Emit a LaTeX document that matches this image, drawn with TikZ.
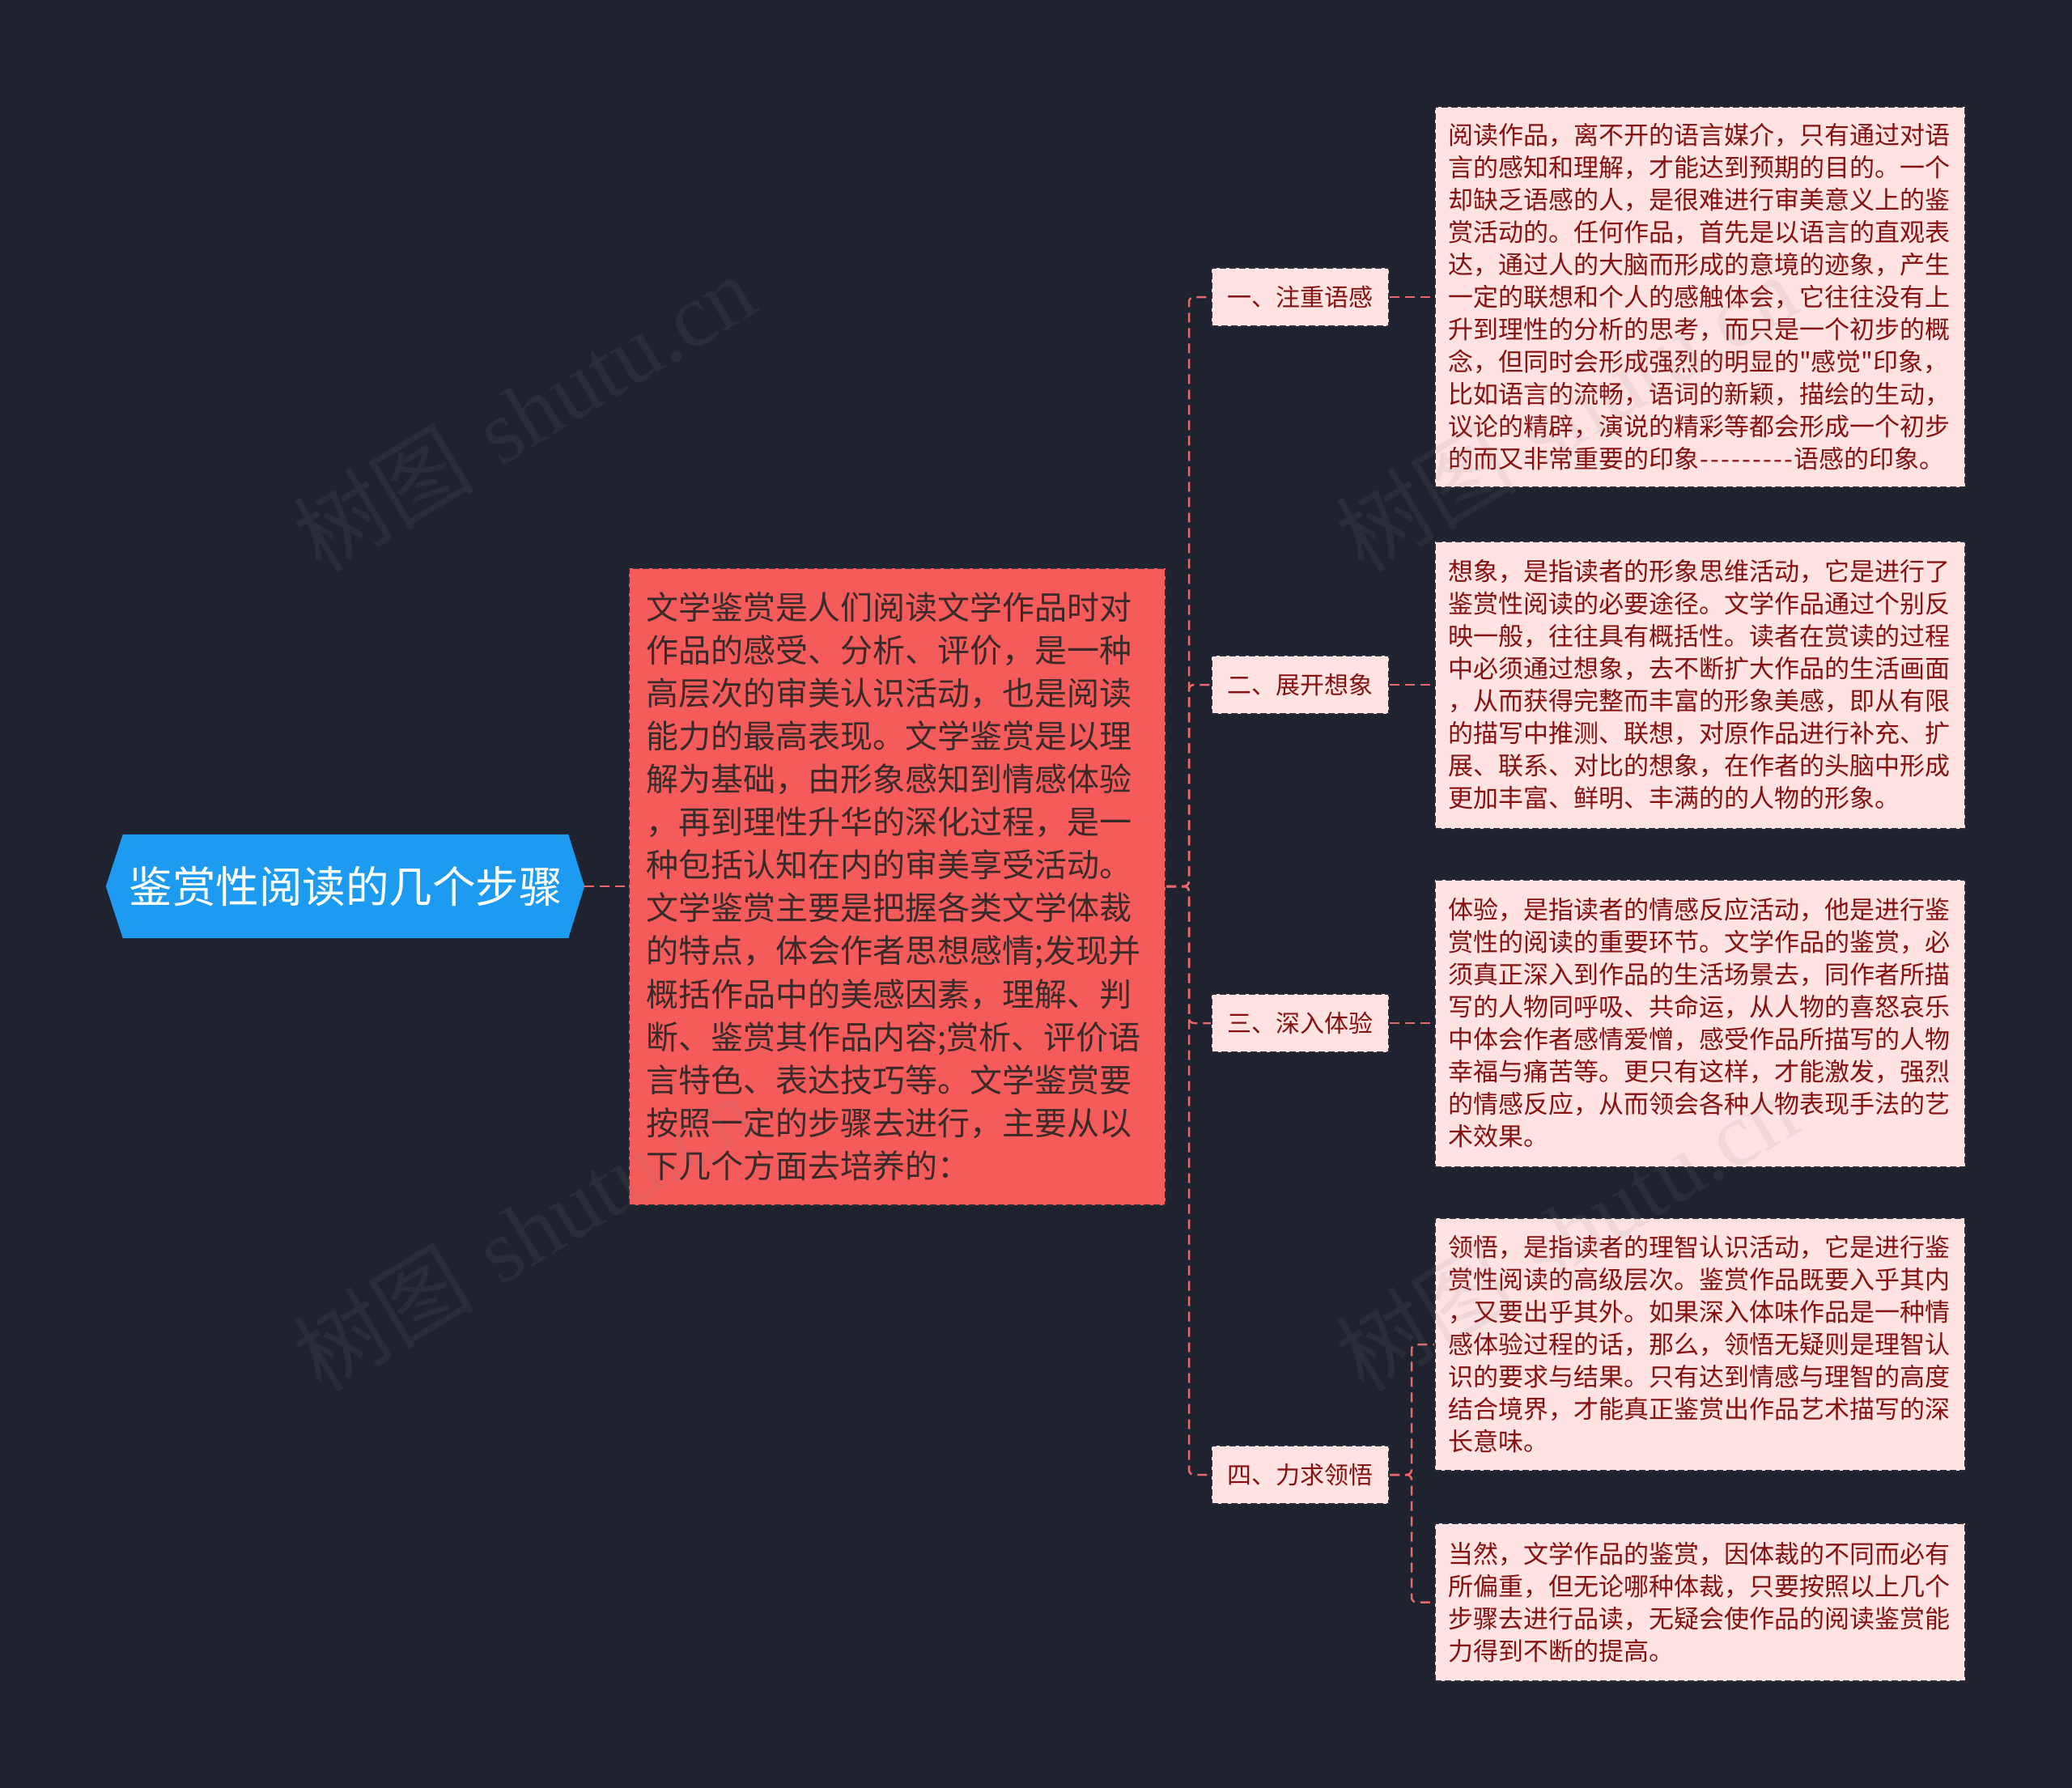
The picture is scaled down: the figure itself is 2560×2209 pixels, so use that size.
\documentclass[tikz,border=0pt]{standalone}
\usepackage{fontspec}
\newfontfamily\cjk{Noto Sans CJK SC}
\newfontfamily\wmserif{Liberation Serif}
\usetikzlibrary{backgrounds}
\definecolor{bgc}{HTML}{1F2330}
\definecolor{rootblue}{HTML}{1D9BF0}
\definecolor{midred}{HTML}{F65B5B}
\definecolor{midtext}{HTML}{3A2A2A}
\definecolor{connc}{HTML}{E8676A}
\definecolor{pinkfill}{HTML}{FFE3E3}
\definecolor{darkred}{HTML}{861111}
\definecolor{edgec}{HTML}{2B2E3A}
\newcommand\hyph{\makebox[13pt]{-}}
\begin{document}
\begin{tikzpicture}[x=1pt,y=-1pt,
  conn/.style={draw=connc, line width=2.5pt, dash pattern=on 12pt off 7pt},
  rootnode/.style={minimum width=550pt, minimum height=128pt, inner sep=0pt,
    text=white, font=\cjk\fontsize{53.5}{60}\selectfont},
  centralbox/.style={fill=midred, draw=edgec, line width=2pt, dash pattern=on 8pt off 4pt,
    minimum width=663pt, minimum height=787pt, text width=621pt,
    inner xsep=21pt, inner ysep=0pt, align=left, text=midtext,
    font=\cjk\fontsize{40}{53.1}\selectfont},
  labelbox/.style={fill=pinkfill, draw=edgec, line width=2pt, dash pattern=on 8pt off 4pt,
    minimum width=219pt, minimum height=72pt, inner sep=0pt, text=darkred,
    font=\cjk\fontsize{30}{36}\selectfont},
  textbox/.style={fill=pinkfill, draw=edgec, line width=2pt, dash pattern=on 8pt off 4pt,
    minimum width=655pt, text width=623pt, inner xsep=16pt, inner ysep=0pt,
    align=left, text=darkred, font=\cjk\fontsize{31}{40}\selectfont},
  wm/.style={text=gray, text opacity=0.11, font=\fontsize{112}{120}\selectfont, inner sep=0pt}
]
\useasboundingbox (0,0) rectangle (2560,2209);

\node[rootnode] (root) at (427,1095) {鉴赏性阅读的几个步骤};

\node[centralbox] (central) at (1108.5,1095) {文学鉴赏是人们阅读文学作品时对\\作品的感受、分析、评价，是一种\\高层次的审美认识活动，也是阅读\\能力的最高表现。文学鉴赏是以理\\解为基础，由形象感知到情感体验\\，再到理性升华的深化过程，是一\\种包括认知在内的审美享受活动。\\文学鉴赏主要是把握各类文学体裁\\的特点，体会作者思想感情;发现并\\概括作品中的美感因素，理解、判\\断、鉴赏其作品内容;赏析、评价语\\言特色、表达技巧等。文学鉴赏要\\按照一定的步骤去进行，主要从以\\下几个方面去培养的：};

\node[labelbox] (l1) at (1606.5,367) {一、注重语感};
\node[labelbox] (l2) at (1606.5,846) {二、展开想象};
\node[labelbox] (l3) at (1606.5,1264) {三、深入体验};
\node[labelbox] (l4) at (1606.5,1822) {四、力求领悟};

\node[textbox, minimum height=470pt] (b1) at (2100.5,367) {阅读作品，离不开的语言媒介，只有通过对语\\言的感知和理解，才能达到预期的目的。一个\\却缺乏语感的人，是很难进行审美意义上的鉴\\赏活动的。任何作品，首先是以语言的直观表\\达，通过人的大脑而形成的意境的迹象，产生\\一定的联想和个人的感触体会，它往往没有上\\升到理性的分析的思考，而只是一个初步的概\\念，但同时会形成强烈的明显的"感觉"印象，\\比如语言的流畅，语词的新颖，描绘的生动，\\议论的精辟，演说的精彩等都会形成一个初步\\的而又非常重要的印象\hyph\hyph\hyph\hyph\hyph\hyph\hyph\hyph\hyph 语感的印象。};

\node[textbox, minimum height=355pt] (b2) at (2100.5,846) {想象，是指读者的形象思维活动，它是进行了\\鉴赏性阅读的必要途径。文学作品通过个别反\\映一般，往往具有概括性。读者在赏读的过程\\中必须通过想象，去不断扩大作品的生活画面\\，从而获得完整而丰富的形象美感，即从有限\\的描写中推测、联想，对原作品进行补充、扩\\展、联系、对比的想象，在作者的头脑中形成\\更加丰富、鲜明、丰满的的人物的形象。};

\node[textbox, minimum height=355pt] (b3) at (2100.5,1264) {体验，是指读者的情感反应活动，他是进行鉴\\赏性的阅读的重要环节。文学作品的鉴赏，必\\须真正深入到作品的生活场景去，同作者所描\\写的人物同呼吸、共命运，从人物的喜怒哀乐\\中体会作者感情爱憎，感受作品所描写的人物\\幸福与痛苦等。更只有这样，才能激发，强烈\\的情感反应，从而领会各种人物表现手法的艺\\术效果。};

\node[textbox, minimum height=312pt] (b4) at (2100.5,1661) {领悟，是指读者的理智认识活动，它是进行鉴\\赏性阅读的高级层次。鉴赏作品既要入乎其内\\，又要出乎其外。如果深入体味作品是一种情\\感体验过程的话，那么，领悟无疑则是理智认\\识的要求与结果。只有达到情感与理智的高度\\结合境界，才能真正鉴赏出作品艺术描写的深\\长意味。};

\node[textbox, minimum height=195pt] (b5) at (2100.5,1979.5) {当然，文学作品的鉴赏，因体裁的不同而必有\\所偏重，但无论哪种体裁，只要按照以上几个\\步骤去进行品读，无疑会使作品的阅读鉴赏能\\力得到不断的提高。};

\begin{scope}[on background layer]
  \fill[bgc] (0,0) rectangle (2560,2209);
  \fill[rootblue] ([xshift=-21pt]root.west) -- (root.north west) -- (root.north east)
     -- ([xshift=20pt]root.east) -- (root.south east) -- (root.south west) -- cycle;
\end{scope}

\coordinate (rtip) at ([xshift=20pt]root.east);
\coordinate (trunk) at (1469,1095);
\coordinate (sub) at (1744,1822);

\draw[conn] (rtip) -- (central.west);
\draw[conn, rounded corners=6pt] (central.east) -- (trunk) |- (l1.west);
\draw[conn, rounded corners=6pt] (central.east) -- (trunk) |- (l2.west);
\draw[conn, rounded corners=6pt] (central.east) -- (trunk) |- (l3.west);
\draw[conn, rounded corners=6pt] (central.east) -- (trunk) |- (l4.west);
\draw[conn] (l1.east) -- (b1.west);
\draw[conn] (l2.east) -- (b2.west);
\draw[conn] (l3.east) -- (b3.west);
\draw[conn, rounded corners=6pt] (l4.east) -- (sub) |- (b4.west);
\draw[conn, rounded corners=6pt] (l4.east) -- (sub) |- (b5.west);

\node[wm, rotate=31] (wm1) at (647,510) {{\cjk 树图} {\wmserif shutu.cn}};
\node[wm, rotate=31] (wm2) at (647,1522) {{\cjk 树图} {\wmserif shutu.cn}};
\node[wm, rotate=31] (wm3) at (1935,510) {{\cjk 树图} {\wmserif shutu.cn}};
\node[wm, rotate=31] (wm4) at (1935,1522) {{\cjk 树图} {\wmserif shutu.cn}};
\end{tikzpicture}
\end{document}
